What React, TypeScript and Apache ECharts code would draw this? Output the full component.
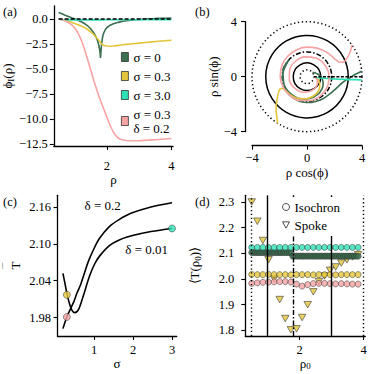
import React, { useEffect, useRef } from 'react';
import * as echarts from 'echarts';

const FONT = 'Liberation Serif';
const C_GREEN = '#3c6e50';
const C_YELLOW = '#e3c53b';
const C_TEAL = '#2ee0b6';
const C_PINK = '#f5a3a3';

// ---------- Panel (a): phi_I(rho) ----------
const rhoGreen = [0.5, 0.6, 0.7, 0.8, 0.9, 1.0, 1.1, 1.2, 1.3, 1.4, 1.5, 1.6, 1.65, 1.7, 1.75, 1.78, 1.8, 1.81, 1.83, 1.85, 1.87, 1.9, 1.95, 2.0, 2.1, 2.2, 2.3, 2.4, 2.5, 2.6, 2.8, 3.0, 3.2, 3.4, 3.6, 3.8, 4.0];
const phiGreen = [0.65, 0.52, 0.38, 0.25, 0.12, 0.0, -0.12, -0.27, -0.45, -0.68, -1.0, -1.45, -1.75, -2.1, -2.65, -3.2, -3.9, -3.4, -2.6, -2.1, -1.7, -1.4, -1.05, -0.85, -0.62, -0.47, -0.37, -0.29, -0.22, -0.17, -0.1, -0.05, -0.01, 0.03, 0.06, 0.08, 0.1];
const rhoCommon = [0.5, 0.6, 0.7, 0.8, 0.9, 1.0, 1.1, 1.2, 1.3, 1.4, 1.5, 1.6, 1.7, 1.75, 1.8, 1.85, 1.9, 1.95, 2.0, 2.1, 2.2, 2.3, 2.4, 2.5, 2.6, 2.8, 3.0, 3.2, 3.4, 3.6, 3.8, 4.0];
const phiYellow = [0, -0.05, -0.12, -0.22, -0.33, -0.45, -0.57, -0.7, -0.85, -1.05, -1.3, -1.6, -1.95, -2.12, -2.35, -2.55, -2.63, -2.68, -2.7, -2.72, -2.7, -2.66, -2.62, -2.58, -2.54, -2.47, -2.41, -2.35, -2.29, -2.23, -2.18, -2.13];
const phiTeal = [-0.03, -0.06, -0.08, -0.09, -0.09, -0.09, -0.09, -0.09, -0.09, -0.09, -0.09, -0.09, -0.09, -0.09, -0.09, -0.09, -0.09, -0.08, -0.08, -0.08, -0.08, -0.08, -0.08, -0.07, -0.07, -0.07, -0.07, -0.07, -0.06, -0.06, -0.06, -0.06];
const rhoPink = [0.5, 0.6, 0.7, 0.8, 0.9, 1.0, 1.05, 1.1, 1.15, 1.2, 1.25, 1.3, 1.35, 1.4, 1.45, 1.5, 1.55, 1.6, 1.65, 1.7, 1.75, 1.8, 1.85, 1.9, 1.95, 2.0, 2.05, 2.1, 2.15, 2.2, 2.25, 2.3, 2.35, 2.4, 2.5, 2.6, 2.8, 3.0, 3.2, 3.4, 3.6, 3.8, 4.0];
const phiPink = [0, -0.08, -0.2, -0.35, -0.57, -0.9, -1.12, -1.4, -1.73, -2.1, -2.53, -3.0, -3.5, -4.05, -4.6, -5.15, -5.7, -6.25, -6.75, -7.25, -7.72, -8.15, -8.58, -9.0, -9.42, -9.85, -10.25, -10.65, -11.0, -11.3, -11.55, -11.75, -11.9, -12.0, -12.1, -12.15, -12.18, -12.17, -12.13, -12.09, -12.05, -12.0, -11.95];
const rhoRef = [0.5, 4.0];
const phiRef = [0, 0];
const aXTicks = [2, 4];
const aYTicks = [0, -2.5, -5, -7.5, -10, -12.5];
const legendNames = ['σ = 0', 'σ = 0.3', 'σ = 3.0', 'σ = 0.3\nδ = 0.2'];

// ---------- Panel (b): circles (radii) ----------
const circleRadii = [0.5, 1, 1.8, 3, 4];
const circleKinds = ['dotted', 'solid', 'dashdot', 'solid', 'dotted'];

// ---------- Panel (c): mean period vs sigma ----------
const sigmaD001 = [0.2, 0.25, 0.31, 0.38, 0.44, 0.5, 0.58, 0.66, 0.77, 0.89, 1.02, 1.14, 1.39, 1.63, 1.96, 2.46, 3.0];
const TD001 = [2.052, 2.036, 2.017, 2.0, 1.991, 1.988, 1.991, 2.003, 2.025, 2.049, 2.068, 2.08, 2.097, 2.106, 2.113, 2.12, 2.125];
const sigmaD02 = [0.2, 0.3, 0.4, 0.48, 0.56, 0.65, 0.75, 0.85, 0.98, 1.14, 1.39, 1.63, 1.96, 2.46, 3.0];
const TD02 = [1.962, 1.981, 1.995, 2.006, 2.02, 2.033, 2.052, 2.071, 2.09, 2.109, 2.128, 2.139, 2.15, 2.16, 2.167];
const sigmaDots = [0.3, 0.3, 3.0];
const TDots = [2.017, 1.981, 2.125];
const dotColors = [C_YELLOW, C_PINK, C_TEAL];
const annSigma = [1.22, 2.35];
const annT = [2.162, 2.09];
const annText = ['δ = 0.2', 'δ = 0.01'];
const cXTicks = [1, 2, 3];
const cYTicks = [1.98, 2.04, 2.1, 2.16];

// ---------- Panel (d): <T(rho0)> ----------
const rho0 = [0.5, 0.675, 0.85, 1.025, 1.2, 1.375, 1.55, 1.725, 1.9, 2.075, 2.25, 2.425, 2.6, 2.775, 2.95, 3.125, 3.3, 3.475, 3.65, 3.825];
const isoTeal = [2.123, 2.123, 2.123, 2.123, 2.123, 2.123, 2.123, 2.123, 2.123, 2.123, 2.123, 2.123, 2.123, 2.123, 2.123, 2.123, 2.123, 2.123, 2.123, 2.123];
const isoYellow = [2.018, 2.017, 2.017, 2.018, 2.017, 2.017, 2.017, 2.016, 2.017, 2.017, 2.017, 2.016, 2.017, 2.017, 2.017, 2.016, 2.017, 2.017, 2.017, 2.017];
const isoPink = [1.983, 1.985, 1.987, 1.988, 1.989, 1.99, 1.99, 1.988, 1.98, 1.972, 1.978, 1.982, 1.983, 1.983, 1.982, 1.981, 1.982, 1.981, 1.98, 1.98];
const spoke = [2.3, 2.225, 2.15, 2.075, 2.0, 1.92, 1.846, 1.802, 1.806, 1.85, 1.9, 1.95, 1.99, 2.012, 2.034, 2.047, 2.062, 2.075, 2.086, 2.095];
const rho0Dense = [0.5, 0.56, 0.62, 0.68, 0.73, 0.79, 0.85, 0.91, 0.97, 1.03, 1.08, 1.14, 1.2, 1.26, 1.32, 1.38, 1.43, 1.49, 1.55, 1.61, 1.67, 1.73, 1.78, 1.84, 1.9, 1.96, 2.02, 2.08, 2.13, 2.19, 2.25, 2.31, 2.37, 2.43, 2.48, 2.54, 2.6, 2.66, 2.72, 2.78, 2.83, 2.89, 2.95, 3.01, 3.07, 3.13, 3.18, 3.24, 3.3, 3.36, 3.42, 3.48, 3.53, 3.59, 3.65, 3.71, 3.77, 3.83];
const isoGreen = [2.103, 2.103, 2.103, 2.103, 2.103, 2.103, 2.103, 2.103, 2.103, 2.103, 2.103, 2.103, 2.103, 2.103, 2.103, 2.103, 2.103, 2.103, 2.103, 2.103, 2.103, 2.103, 2.089, 2.089, 2.089, 2.089, 2.089, 2.089, 2.089, 2.089, 2.089, 2.089, 2.089, 2.089, 2.089, 2.089, 2.089, 2.089, 2.089, 2.089, 2.089, 2.089, 2.089, 2.089, 2.089, 2.089, 2.089, 2.089, 2.089, 2.089, 2.089, 2.089, 2.089, 2.089, 2.089, 2.089, 2.089, 2.089];
const vLines = [0.5, 1, 1.8, 3, 4];
const vKinds = ['dotted', 'solid', 'dashdot', 'solid', 'dotted'];
const dXTicks = [2, 4];
const dYTicks = [1.8, 1.9, 2.0, 2.1, 2.2, 2.3];

const pairs = (xs: number[], ys: number[]) => xs.map((x, i) => [x, ys[i]]);
const polarXY = (rho: number[], phi: number[]) => rho.map((r, i) => [r * Math.cos(phi[i]), r * Math.sin(phi[i])]);
const minus = (s: string) => s.replace('-', '\u2212');
const dashOf = (k: string): any => (k === 'dotted' ? [1.3, 2.6] : k === 'dashdot' ? [5, 2, 1.5, 2] : 'solid');

const TICK_FS = 12.5;
const NAME_FS = 13;
const nameStyle = (extra: any = {}) => ({ color: '#000', fontFamily: FONT, fontSize: NAME_FS, ...extra });
const richSub = {
  a: { fontFamily: FONT, fontSize: NAME_FS, color: '#000' },
  b: { fontFamily: FONT, fontSize: 9, color: '#000', verticalAlign: 'bottom', padding: [6, 0, 0, 0] },
};
const richBar = {
  o: { fontFamily: FONT, fontSize: 9, color: '#000', lineHeight: 6, align: 'center' },
  a: { fontFamily: FONT, fontSize: NAME_FS, color: '#000', lineHeight: 13, align: 'center' },
};

function mkAxis(o: any) {
  const { ticks, fmt, margin, ...rest } = o;
  return {
    type: 'value',
    axisLine: { show: true, onZero: false, lineStyle: { color: '#000', width: 1.3 } },
    axisTick: { show: true, length: 4, lineStyle: { color: '#000', width: 1.1 }, ...(ticks ? { customValues: ticks } : {}) },
    axisLabel: { color: '#000', fontFamily: FONT, fontSize: TICK_FS, margin, formatter: fmt, ...(ticks ? { customValues: ticks } : {}) },
    splitLine: { show: false },
    nameLocation: 'middle',
    nameTextStyle: nameStyle(),
    ...rest,
  };
}

function buildOption(): any {
  const lineS = (name: string, xi: number, data: number[][], color: string, extra: any = {}) => ({
    type: 'line', name, xAxisIndex: xi, yAxisIndex: xi, data, showSymbol: false, symbol: 'none',
    color, itemStyle: { color }, lineStyle: { color, width: 1.6 }, z: 3, silent: true, ...extra,
  });
  const circSym = (color: string) => ({ color, borderColor: '#2a2a2a', borderWidth: 0.6 });
  return {
    animation: false,
    backgroundColor: '#fff',
    textStyle: { fontFamily: FONT },
    grid: [
      { left: 53, top: 6, width: 120, height: 140 },
      { left: 252, top: 21.7, width: 110, height: 110 },
      { left: 53, top: 195.3, width: 123.7, height: 140.7 },
      { left: 245.3, top: 195.3, width: 120, height: 140.7 },
    ],
    xAxis: [
      mkAxis({ gridIndex: 0, min: 0.35, max: 4.05, ticks: aXTicks, margin: 13, fmt: (v: number) => String(v), name: 'ρ', nameGap: 17 }),
      mkAxis({ gridIndex: 1, min: -4, max: 4, interval: 4, offset: 14, margin: 6, fmt: (v: number) => minus(String(v)), name: 'ρ cos(ϕ)', nameGap: 19 }),
      mkAxis({ gridIndex: 2, min: 0.06, max: 3.12, ticks: cXTicks, margin: 7, fmt: (v: number) => String(v), name: 'σ', nameGap: 18 }),
      mkAxis({ gridIndex: 3, min: 0.3, max: 4.05, ticks: dXTicks, margin: 7, fmt: (v: number) => String(v), name: '{a|ρ}{b|0}', nameGap: 14, nameTextStyle: nameStyle({ rich: richSub }) }),
    ],
    yAxis: [
      mkAxis({ gridIndex: 0, min: -12.7, max: 1.3, ticks: aYTicks, margin: 6, fmt: (v: number) => minus(v.toFixed(1)), name: '{a|ϕ}{b|I}{a|(ρ)}', nameGap: 36, nameTextStyle: nameStyle({ rich: richSub }) }),
      mkAxis({ gridIndex: 1, min: -4, max: 4, interval: 4, offset: 7, margin: 8, fmt: (v: number) => minus(String(v)), name: 'ρ sin(ϕ)', nameGap: 25 }),
      mkAxis({ gridIndex: 2, min: 1.95, max: 2.179, ticks: cYTicks, margin: 6.5, fmt: (v: number) => v.toFixed(2), name: '{o|‾‾}\n{a|T}', nameGap: 36, nameTextStyle: nameStyle({ rich: richBar }) }),
      mkAxis({ gridIndex: 3, min: 1.778, max: 2.326, ticks: dYTicks, margin: 11, fmt: (v: number) => v.toFixed(1), name: '{a|⟨T(ρ}{b|0}{a|)⟩}', nameGap: 43, nameTextStyle: nameStyle({ rich: richSub }) }),
    ],
    legend: [
      {
        data: legendNames, orient: 'vertical', left: 121, top: 50, icon: 'rect', itemWidth: 7, itemHeight: 9, itemGap: 5, padding: 0,
        textStyle: { fontFamily: FONT, fontSize: 13, color: '#000', lineHeight: 14 },
        itemStyle: { borderColor: '#333', borderWidth: 0.8 }, selectedMode: false,
      },
      {
        data: [{ name: 'Isochron', icon: 'circle' }, { name: 'Spoke', icon: 'path://M0,0L10,0L5,9Z' }],
        orient: 'vertical', left: 280, top: 197, itemWidth: 7, itemHeight: 7, itemGap: 4, padding: [3, 4, 4, 2],
        backgroundColor: '#fff', textStyle: { fontFamily: FONT, fontSize: 13, color: '#000', lineHeight: 14 },
        itemStyle: { color: '#fff', borderColor: '#222', borderWidth: 1 }, selectedMode: false, z: 10,
      },
    ],
    series: [
      // (a)
      lineS(legendNames[0], 0, pairs(rhoGreen, phiGreen), C_GREEN),
      lineS(legendNames[1], 0, pairs(rhoCommon, phiYellow), C_YELLOW),
      lineS(legendNames[2], 0, pairs(rhoCommon, phiTeal), C_TEAL),
      lineS(legendNames[3], 0, pairs(rhoPink, phiPink), C_PINK, { smooth: 0.2 }),
      lineS('a-ref', 0, pairs(rhoRef, phiRef), '#000', { lineStyle: { color: '#000', width: 1.5, type: [4, 2] }, z: 5 }),
      // (b)
      lineS('b-green', 1, polarXY(rhoGreen, phiGreen), C_GREEN, { smooth: 0.3 }),
      lineS('b-yellow', 1, polarXY(rhoCommon, phiYellow), C_YELLOW, { smooth: 0.3 }),
      lineS('b-teal', 1, polarXY(rhoCommon, phiTeal), C_TEAL),
      lineS('b-pink', 1, polarXY(rhoPink, phiPink), C_PINK, { smooth: 0.4 }),
      lineS('b-ref', 1, polarXY(rhoRef, phiRef), '#000', { lineStyle: { color: '#000', width: 1.5, type: [3, 1.5] }, z: 5 }),
      // (c)
      lineS('c-d001', 2, pairs(sigmaD001, TD001), '#000', { smooth: 0.35 }),
      lineS('c-d02', 2, pairs(sigmaD02, TD02), '#000', { smooth: 0.35 }),
      {
        type: 'scatter', name: 'c-dots', xAxisIndex: 2, yAxisIndex: 2, symbolSize: 7, z: 6, silent: true,
        data: sigmaDots.map((s, i) => ({ value: [s, TDots[i]], itemStyle: circSym(dotColors[i]) })),
      },
      // (d)
      {
        type: 'line', name: 'd-vlines', xAxisIndex: 3, yAxisIndex: 3, data: [], z: 1, silent: true,
        markLine: {
          silent: true, symbol: ['none', 'none'], label: { show: false },
          data: vLines.map((v, i) => ({ xAxis: v, lineStyle: { color: '#000', width: 1.4, type: dashOf(vKinds[i]) } })),
        },
      },
      {
        type: 'scatter', name: 'd-spoke', xAxisIndex: 3, yAxisIndex: 3, data: pairs(rho0, spoke), z: 3, silent: true,
        symbol: 'path://M0,0L10,0L5,9Z', symbolSize: [7.5, 6.5], itemStyle: { color: C_YELLOW, borderColor: '#2a2a2a', borderWidth: 0.7 },
      },
      { type: 'scatter', name: 'd-green', xAxisIndex: 3, yAxisIndex: 3, data: pairs(rho0Dense, isoGreen), symbolSize: 6, z: 4, silent: true, itemStyle: circSym(C_GREEN) },
      { type: 'scatter', name: 'd-teal', xAxisIndex: 3, yAxisIndex: 3, data: pairs(rho0, isoTeal), symbolSize: 6, z: 4, silent: true, itemStyle: circSym(C_TEAL) },
      { type: 'scatter', name: 'd-yellow', xAxisIndex: 3, yAxisIndex: 3, data: pairs(rho0, isoYellow), symbolSize: 6, z: 4, silent: true, itemStyle: circSym(C_YELLOW) },
      { type: 'scatter', name: 'd-pink', xAxisIndex: 3, yAxisIndex: 3, data: pairs(rho0, isoPink), symbolSize: 6, z: 4, silent: true, itemStyle: circSym(C_PINK) },
      { type: 'scatter', name: 'Isochron', xAxisIndex: 3, yAxisIndex: 3, data: [], symbol: 'circle', itemStyle: { color: '#fff', borderColor: '#222', borderWidth: 1 } },
      { type: 'scatter', name: 'Spoke', xAxisIndex: 3, yAxisIndex: 3, data: [], symbol: 'path://M0,0L10,0L5,9Z', itemStyle: { color: '#fff', borderColor: '#222', borderWidth: 1 } },
    ],
  };
}

const txt = (text: string, x: number, y: number, size: number, align = 'left') => ({
  type: 'text', x, y, z: 20, silent: true,
  style: { text, fontFamily: FONT, fontSize: size, fill: '#000', align, textAlign: align, verticalAlign: 'middle', textVerticalAlign: 'middle' },
});

export default function App() {
  const ref = useRef<HTMLDivElement>(null);
  useEffect(() => {
    document.body.style.margin = '0';
    const chart = echarts.init(ref.current!, null, { renderer: 'svg' });
    chart.setOption(buildOption());
    const fb = { xAxisIndex: 1, yAxisIndex: 1 };
    const c0 = chart.convertToPixel(fb, [0, 0]) as number[];
    const c1 = chart.convertToPixel(fb, [1, 0]) as number[];
    const unit = c1[0] - c0[0];
    const circles = circleRadii.map((r, i) => ({
      type: 'circle', z: 1, silent: true,
      shape: { cx: c0[0], cy: c0[1], r: r * unit },
      style: { fill: 'none', stroke: '#000', lineWidth: 1.5, lineDash: circleKinds[i] === 'solid' ? null : dashOf(circleKinds[i]) },
    }));
    const anns = annText.map((t, i) => {
      const p = chart.convertToPixel({ xAxisIndex: 2, yAxisIndex: 2 }, [annSigma[i], annT[i]]) as number[];
      return txt(t, p[0], p[1], 13, 'center');
    });
    chart.setOption({
      graphic: [
        txt('(a)', 3, 12, 12.5),
        txt('(b)', 195, 12, 12.5),
        txt('(c)', 3, 202, 12.5),
        txt('(d)', 195, 202, 12.5),
        ...circles,
        ...anns,
      ],
    });
    return () => chart.dispose();
  }, []);
  return <div ref={ref} style={{ position: 'absolute', left: 0, top: 0, width: 374, height: 374, background: '#fff' }} />;
}
